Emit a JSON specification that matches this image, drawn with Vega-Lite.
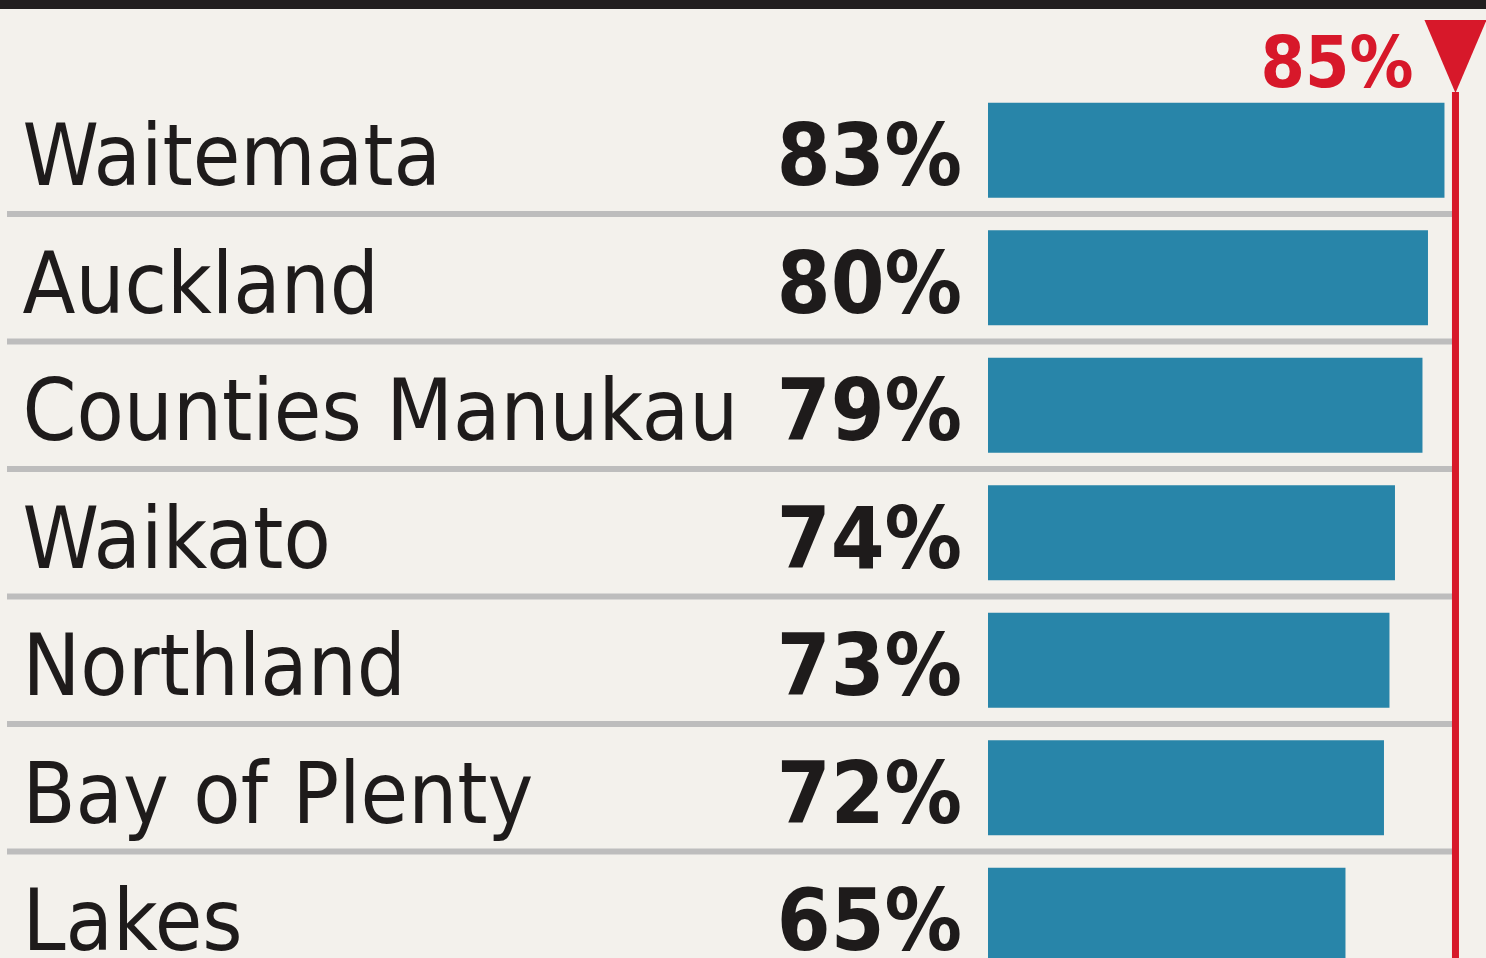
{
  "$schema": "https://vega.github.io/schema/vega-lite/v6.json",
  "width": 1486,
  "height": 949,
  "autosize": {"type": "none"},
  "padding": {"top": 9, "left": 0, "right": 0, "bottom": 0},
  "background": "#221e1f",
  "view": {"fill": "#f3f1ec", "stroke": null},
  "config": {"font": "DejaVu Sans Condensed, Roboto"},
  "data": {
    "values": [
      {"region": "Waitemata", "pct": 83},
      {"region": "Auckland", "pct": 80},
      {"region": "Counties Manukau", "pct": 79},
      {"region": "Waikato", "pct": 74},
      {"region": "Northland", "pct": 73},
      {"region": "Bay of Plenty", "pct": 72},
      {"region": "Lakes", "pct": 65}
    ]
  },
  "transform": [{"calculate": "datum.pct + '%'", "as": "label"}],
  "layer": [
    {
      "mark": {"type": "bar", "color": "#2885a9", "height": {"band": 0.745}},
      "encoding": {
        "y": {
          "field": "region", "type": "nominal", "sort": null,
          "scale": {"domain": ["Waitemata", "Auckland", "Counties Manukau", "Waikato", "Northland", "Bay of Plenty", "Lakes"], "range": [77.5, 970], "paddingInner": 0, "paddingOuter": 0},
          "axis": {"title": null, "domain": false, "ticks": false, "grid": false, "labelAlign": "left", "labelBaseline": "alphabetic", "labelPadding": -22, "labelOffset": 35, "labelFont": "DejaVu Sans Condensed, Roboto", "labelFontSize": 86, "labelColor": "#1e1b1b", "labelLimit": 0, "labelOverlap": false}
        },
        "x": {"field": "pct", "type": "quantitative", "scale": {"domain": [0, 90.55], "range": [988, 1486], "nice": false, "zero": true}, "axis": null}
      }
    },
    {
      "transform": [{"filter": "datum.region !== 'Waitemata'"}],
      "mark": {"type": "rule", "color": "#bdbdbd", "strokeWidth": 6},
      "encoding": {
        "y": {"field": "region", "type": "nominal", "sort": null, "bandPosition": 0},
        "x": {"datum": 85, "type": "quantitative"},
        "x2": {"value": 7}
      }
    },
    {
      "mark": {"type": "text", "align": "right", "baseline": "alphabetic", "dx": -26, "dy": 35, "fontSize": 86, "fontWeight": "bold", "color": "#1e1b1b", "font": "DejaVu Sans Condensed, Roboto"},
      "encoding": {
        "y": {"field": "region", "type": "nominal", "sort": null},
        "x": {"datum": 0, "type": "quantitative"},
        "text": {"field": "label"}
      }
    },
    {
      "data": {"values": [{"target": 85}]},
      "mark": {"type": "rule", "color": "#d7182a", "strokeWidth": 7},
      "encoding": {
        "x": {"field": "target", "type": "quantitative"},
        "y": {"value": 83},
        "y2": {"value": 949}
      }
    },
    {
      "data": {"values": [{"target": 85}]},
      "mark": {"type": "point", "shape": "M-0.85,-1L0.85,-1L0,1Z", "filled": true, "color": "#d7182a", "size": 5329, "opacity": 1, "strokeWidth": 0},
      "encoding": {
        "x": {"field": "target", "type": "quantitative"},
        "y": {"value": 47.5}
      }
    },
    {
      "data": {"values": [{"target": 85}]},
      "transform": [{"calculate": "datum.target + '%'", "as": "tlabel"}],
      "mark": {"type": "text", "align": "right", "baseline": "alphabetic", "dx": -42, "fontSize": 71, "fontWeight": "bold", "color": "#d7182a", "font": "DejaVu Sans Condensed, Roboto"},
      "encoding": {
        "x": {"field": "target", "type": "quantitative"},
        "y": {"value": 78},
        "text": {"field": "tlabel"}
      }
    }
  ]
}
